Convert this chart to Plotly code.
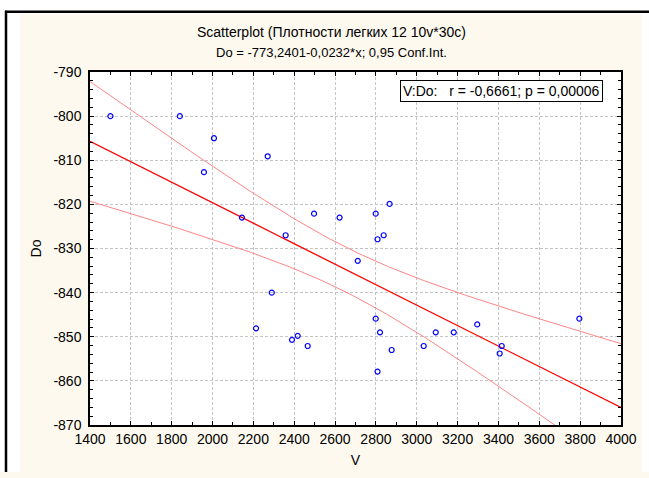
import numpy as np
import plotly.graph_objects as go

# ---- data ----
V = [1500, 1840, 2007, 1958, 2270, 2144, 2358, 2497, 2622, 2711,
     2799, 2867, 2808, 2838, 2290, 2213, 2389, 2417, 2466, 2799,
     2820, 2808, 2877, 3034, 3093, 3181, 3296, 3416, 3406, 3796]
DO = [-800.0, -800.0, -805.0, -812.7, -809.1, -823.0, -827.0, -822.1, -823.0, -832.8,
      -822.1, -819.9, -827.9, -827.0, -840.0, -848.1, -850.7, -849.8, -852.1, -845.9,
      -849.0, -857.9, -853.0, -852.1, -849.0, -849.0, -847.2, -852.1, -853.8, -845.9]

INTERCEPT = -773.2401
SLOPE = -0.0232
T_CRIT = 2.0484  # t(0.975, df=28)

X_TICKS = [1400, 1600, 1800, 2000, 2200, 2400, 2600, 2800, 3000, 3200, 3400, 3600, 3800, 4000]
Y_TICKS = [-870, -860, -850, -840, -830, -820, -810, -800, -790]

TITLE = "Scatterplot (Плотности легких 12 10v*30c)"
SUBTITLE = "Do = -773,2401-0,0232*x; 0,95 Conf.Int."
STAT_TEXT = "V:Do:\u00a0\u00a0\u00a0r = -0,6661; p = 0,00006"

# ---- regression + confidence band ----
x = np.array(V, float)
y = np.array(DO, float)
n = len(x)
resid = y - (INTERCEPT + SLOPE * x)
s = np.sqrt(np.sum(resid ** 2) / (n - 2))
xbar = x.mean()
sxx = np.sum((x - xbar) ** 2)
xs = np.linspace(X_TICKS[0], X_TICKS[-1], 300)
yfit = INTERCEPT + SLOPE * xs
half = T_CRIT * s * np.sqrt(1.0 / n + (xs - xbar) ** 2 / sxx)

FONT = "Arial, Liberation Sans, sans-serif"
CREAM = "#FDF9EF"

fig = go.Figure()
fig.add_trace(go.Scatter(x=xs, y=yfit + half, mode="lines",
                         line=dict(color="#FF8585", width=1), hoverinfo="skip"))
fig.add_trace(go.Scatter(x=xs, y=yfit - half, mode="lines",
                         line=dict(color="#FF8585", width=1), hoverinfo="skip"))
fig.add_trace(go.Scatter(x=xs, y=yfit, mode="lines",
                         line=dict(color="#FF0000", width=1.3), hoverinfo="skip"))
fig.add_trace(go.Scatter(x=V, y=DO, mode="markers",
                         marker=dict(symbol="circle-open", size=5, color="#0000FF",
                                     line=dict(width=1.2, color="#0000FF"))))

W, H = 649, 478
L, R, T, B = 90, 28, 72, 46
pw, ph = W - L - R, H - T - B


def px2x(p):
    return (p - L) / pw


def px2y(p):
    return (H - B - p) / ph


shapes = [
    # white strips outside the cream panel
    dict(type="rect", xref="paper", yref="paper", x0=px2x(-2), x1=px2x(20), y0=px2y(H + 2), y1=px2y(-2),
         fillcolor="white", line=dict(width=0), layer="below"),
    dict(type="rect", xref="paper", yref="paper", x0=px2x(-2), x1=px2x(W + 2), y0=px2y(13), y1=px2y(-2),
         fillcolor="white", line=dict(width=0), layer="below"),
    dict(type="rect", xref="paper", yref="paper", x0=px2x(642), x1=px2x(W + 2), y0=px2y(H + 2), y1=px2y(-2),
         fillcolor="white", line=dict(width=0), layer="below"),
    # black frame lines (top and left)
    dict(type="line", xref="paper", yref="paper", x0=px2x(5), x1=px2x(W + 2), y0=px2y(10.5), y1=px2y(10.5),
         line=dict(color="black", width=2.5)),
    dict(type="line", xref="paper", yref="paper", x0=px2x(6), x1=px2x(6), y0=px2y(9.5), y1=px2y(H + 2),
         line=dict(color="black", width=2.5)),
]

annotations = [
    dict(text=TITLE, xref="paper", yref="paper", x=px2x(331), y=px2y(31), showarrow=False,
         xanchor="center", yanchor="middle", font=dict(size=14, color="black", family=FONT)),
    dict(text=SUBTITLE, xref="paper", yref="paper", x=px2x(331), y=px2y(52.5), showarrow=False,
         xanchor="center", yanchor="middle", font=dict(size=13, color="black", family=FONT)),
    dict(text=STAT_TEXT, xref="paper", yref="paper", x=px2x(501), y=px2y(91.7), showarrow=False,
         xanchor="center", yanchor="middle", bgcolor="white", bordercolor="black", borderwidth=1,
         borderpad=2, font=dict(size=14, color="black", family=FONT)),
]

axis_common = dict(
    showline=True, linecolor="black", linewidth=1.5, mirror="allticks",
    ticks="inside", ticklen=4, tickcolor="black", tickwidth=1,
    showgrid=True, gridcolor="#C4C4C4", gridwidth=1, griddash="3px,2px",
    zeroline=False, tickfont=dict(size=14, color="black", family=FONT),
)

fig.update_layout(
    width=W, height=H, margin=dict(l=L, r=R, t=T, b=B, pad=0),
    paper_bgcolor=CREAM, plot_bgcolor="white", showlegend=False,
    font=dict(family=FONT, color="black"),
    shapes=shapes, annotations=annotations,
    xaxis=dict(range=[X_TICKS[0], X_TICKS[-1]], tickmode="array", tickvals=X_TICKS,
               ticktext=[str(v) for v in X_TICKS],
               minor=dict(dtick=100, tick0=1400, ticks="inside", ticklen=3, tickcolor="black", showgrid=False),
               title=dict(text="V", font=dict(size=14, color="black", family=FONT), standoff=10),
               **axis_common),
    yaxis=dict(range=[Y_TICKS[0], Y_TICKS[-1]], tickmode="array", tickvals=Y_TICKS,
               ticktext=[str(v) for v in Y_TICKS], ticklabelstandoff=4,
               minor=dict(dtick=2, tick0=-870, ticks="inside", ticklen=3, tickcolor="black", showgrid=False),
               title=dict(text="Do", font=dict(size=14, color="black", family=FONT), standoff=9),
               **axis_common),
)

fig.write_html(
    "out.html",
    config={"displayModeBar": False},
    post_script="document.body.style.margin='0';document.body.style.overflow='hidden';",
)
